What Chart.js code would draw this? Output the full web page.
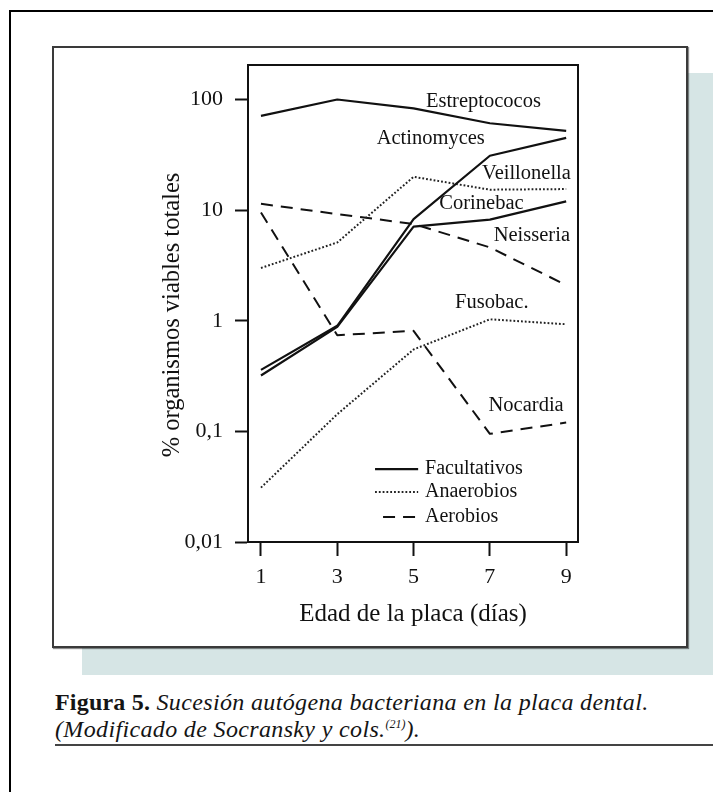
<!DOCTYPE html>
<html>
<head>
<meta charset="utf-8">
<script src="https://cdn.jsdelivr.net/npm/chart.js@4.4.1/dist/chart.umd.min.js"></script>
<style>
  html, body { margin: 0; padding: 0; background: #fff; }
  body { width: 713px; height: 792px; position: relative; overflow: hidden; font-family: "Liberation Serif", serif; }
  #outer { position: absolute; left: 9px; top: 10px; width: 800px; height: 900px; border: 2px solid #000; box-sizing: border-box; }
  #shade { position: absolute; left: 82px; top: 73px; width: 700px; height: 602px; background: #d6e5e5; }
  #box { position: absolute; left: 52px; top: 46px; width: 636px; height: 602px; box-sizing: border-box; background: #fff; border: 2px solid #3a3a3a; box-shadow: 1px 1px 1px rgba(0,0,0,0.45); }
  #chartWrap { position: absolute; left: 0; top: 0; width: 713px; height: 792px; }
  #caption { position: absolute; left: 55px; top: 689px; font-size: 24px; line-height: 27px; color: #141414; letter-spacing: 0.35px; white-space: nowrap; }
  #caption b { font-weight: bold; letter-spacing: 0.2px; }
  #caption i { font-style: italic; }
  #caption sup { font-size: 12px; line-height: 0; vertical-align: 9px; letter-spacing: 0; }
  #rule { position: absolute; left: 55px; top: 744px; width: 700px; height: 0; border-top: 2px solid #444; }
</style>
</head>
<body>
<div id="outer"></div>
<div id="shade"></div>
<div id="box"></div>
<div id="caption"><b>Figura 5.</b> <i>Sucesión autógena bacteriana en la placa dental.</i><br><i>(Modificado de Socransky y cols.<sup>(21)</sup>).</i></div>
<div id="rule"></div>
<div id="chartWrap"><canvas id="c" width="713" height="792"></canvas></div>
<script>
// ---- data ----
const days = [1, 3, 5, 7, 9];
const estreptococos = [71, 100, 83, 61, 52];
const actinomyces   = [0.36, 0.90, 8.3, 31, 45];
const corinebac     = [0.32, 0.88, 7.1, 8.2, 12];
const veillonella   = [3.0, 5.1, 20, 15.3, 15.5];
const fusobac       = [0.031, 0.143, 0.55, 1.03, 0.93];
const neisseria     = [11.4, 9.2, 7.5, 4.6, 2.1];
const nocardia      = [9.5, 0.74, 0.81, 0.095, 0.12];

const xTicks = [1, 3, 5, 7, 9];
const yTicks = [0.01, 0.1, 1, 10, 100];
const yTickLabels = ['0,01', '0,1', '1', '10', '100'];

const seriesNames = ['Estreptococos', 'Actinomyces', 'Corinebac', 'Veillonella', 'Fusobac.', 'Neisseria', 'Nocardia'];
const seriesGroups = ['Facultativos', 'Facultativos', 'Facultativos', 'Anaerobios', 'Anaerobios', 'Aerobios', 'Aerobios'];
const legendLabels = ['Facultativos', 'Anaerobios', 'Aerobios'];

const xTitle = 'Edad de la placa (días)';
const yTitle = '% organismos viables totales';

// ---- styles (kept apart from data) ----
const FONT = '"Liberation Serif", "Times New Roman", serif';
const INK = '#111';
const groupStyle = {
  'Facultativos': { dash: [], width: 2.2, color: '#111' },
  'Anaerobios':   { dash: [1.8, 2], width: 2, color: '#222' },
  'Aerobios':     { dash: [12, 8], width: 2, color: '#111' }
};
// label anchors in data space (x = day, y = %)
const labelAnchors = {
  'Estreptococos': [6.83, 96],
  'Actinomyces':   [5.45, 44],
  'Veillonella':   [7.96, 21.5],
  'Corinebac':     [6.78, 11.4],
  'Neisseria':     [8.10, 5.9],
  'Fusobac.':      [7.05, 1.47],
  'Nocardia':      [7.95, 0.17]
};
// legend placement in data space: sample line from x0 to x1, text at xt, row y
const legendPlace = {
  'Facultativos': { x0: 3.99, x1: 5.12, y: 0.0456 },
  'Anaerobios':   { x0: 3.99, x1: 5.12, y: 0.0283 },
  'Aerobios':     { x0: 4.20, x1: 5.12, y: 0.0168 }
};
const legendTextX = 5.30;

const seriesValues = [estreptococos, actinomyces, corinebac, veillonella, fusobac, neisseria, nocardia];

const datasets = seriesNames.map((name, i) => {
  const st = groupStyle[seriesGroups[i]];
  return {
    label: name,
    data: days.map((d, j) => ({ x: d, y: seriesValues[i][j] })),
    borderColor: st.color,
    borderWidth: st.width,
    borderDash: st.dash,
    pointRadius: 0,
    tension: 0,
    fill: false,
    borderCapStyle: 'butt',
    borderJoinStyle: 'round'
  };
});

const decorPlugin = {
  id: 'decor',
  afterDatasetsDraw(chart) {
    const { ctx, chartArea: a, scales: { x, y } } = chart;
    ctx.save();
    // frame around plot area
    ctx.strokeStyle = INK;
    ctx.lineWidth = 2;
    ctx.setLineDash([]);
    ctx.strokeRect(a.left, a.top, a.right - a.left, a.bottom - a.top);

    // series labels
    ctx.fillStyle = INK;
    ctx.font = '20.5px ' + FONT;
    ctx.textAlign = 'center';
    ctx.textBaseline = 'middle';
    Object.keys(labelAnchors).forEach(k => {
      const [dx, dy] = labelAnchors[k];
      ctx.fillText(k, x.getPixelForValue(dx), y.getPixelForValue(dy));
    });

    // legend
    ctx.font = '20px ' + FONT;
    ctx.textAlign = 'left';
    legendLabels.forEach(g => {
      const st = groupStyle[g];
      const p = legendPlace[g];
      const py = y.getPixelForValue(p.y);
      ctx.beginPath();
      ctx.strokeStyle = st.color;
      ctx.lineWidth = st.width;
      ctx.setLineDash(st.dash);
      ctx.moveTo(x.getPixelForValue(p.x0), py);
      ctx.lineTo(x.getPixelForValue(p.x1), py);
      ctx.stroke();
      ctx.setLineDash([]);
      ctx.fillStyle = INK;
      ctx.fillText(g, x.getPixelForValue(legendTextX), py);
    });

    // y axis title
    ctx.translate(173, 315);
    ctx.rotate(-Math.PI / 2);
    ctx.font = '24.5px ' + FONT;
    ctx.textAlign = 'center';
    ctx.textBaseline = 'middle';
    ctx.fillStyle = INK;
    ctx.fillText(yTitle, 0, 0);
    ctx.restore();
  }
};

new Chart(document.getElementById('c'), {
  type: 'line',
  data: { datasets },
  plugins: [decorPlugin],
  options: {
    responsive: false,
    animation: false,
    events: [],
    layout: { padding: { left: 100, right: 135, top: 65, bottom: 163 } },
    plugins: { legend: { display: false }, tooltip: { enabled: false }, title: { display: false } },
    scales: {
      x: {
        type: 'linear',
        position: 'bottom',
        min: 0.66,
        max: 9.31,
        afterBuildTicks: s => { s.ticks = xTicks.map(v => ({ value: v })); },
        afterFit: s => { s.height = 87; },
        grid: { display: true, drawOnChartArea: false, drawTicks: true, tickLength: 14, tickWidth: 2, tickColor: INK },
        border: { display: true, color: INK, width: 2 },
        ticks: { color: INK, font: { family: FONT, size: 22 }, padding: 8, maxRotation: 0, autoSkip: false, callback: v => String(v) },
        title: { display: true, text: xTitle, color: INK, font: { family: FONT, size: 25 }, padding: { top: 0, bottom: 0 } }
      },
      y: {
        type: 'logarithmic',
        position: 'left',
        min: 0.01,
        max: 205,
        afterBuildTicks: s => { s.ticks = yTicks.map(v => ({ value: v })); },
        afterFit: s => { s.width = 148; },
        grid: { display: true, drawOnChartArea: false, drawTicks: true, tickLength: 13, tickWidth: 2, tickColor: INK },
        border: { display: true, color: INK, width: 2 },
        ticks: {
          color: INK, font: { family: FONT, size: 22 }, padding: 12, autoSkip: false,
          callback: v => { const i = yTicks.findIndex(t => Math.abs(t - v) / t < 1e-6); return i >= 0 ? yTickLabels[i] : ''; }
        },
        title: { display: false }
      }
    }
  }
});
</script>
</body>
</html>
